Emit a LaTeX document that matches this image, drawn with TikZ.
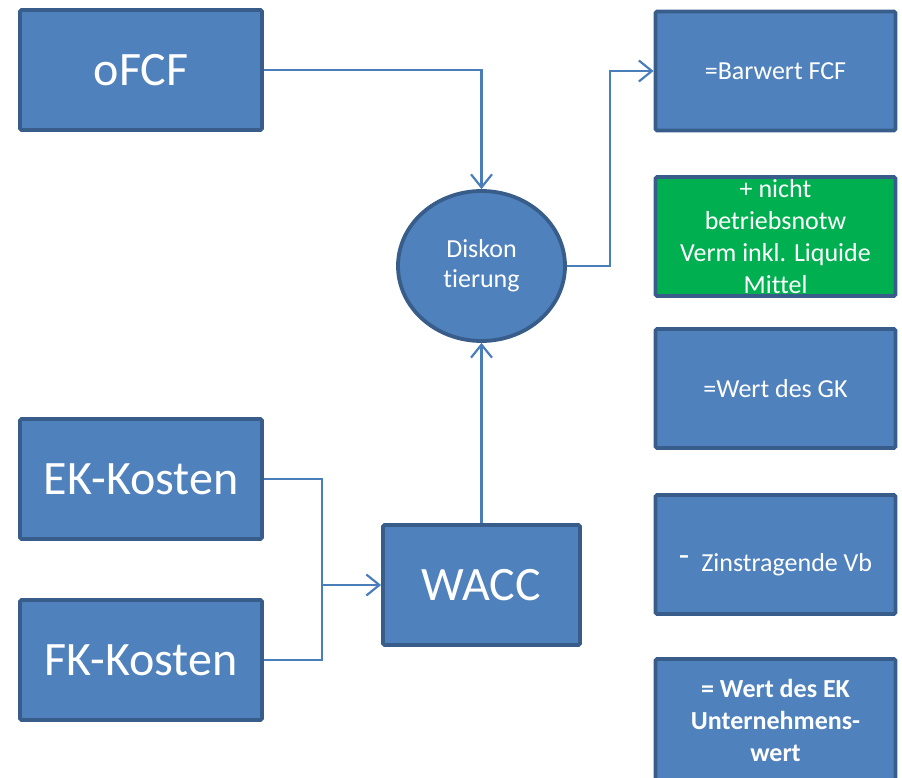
\documentclass[tikz,border=0pt]{standalone}
\usepackage{fontspec}
\setmainfont{Carlito}[Ligatures=NoCommon]
\usetikzlibrary{shapes.geometric,arrows.meta}
\definecolor{boxfill}{HTML}{4F81BD}
\definecolor{boxedge}{HTML}{385D8A}
\definecolor{greenfill}{HTML}{00B050}
\definecolor{wire}{HTML}{4A7EBB}
\tikzset{
  blockbase/.style={draw=boxedge, line width=3.8pt, fill=boxfill, rounded corners=1.5pt,
    text=white, align=center, inner sep=0pt},
  bigbox/.style={blockbase, minimum width=242pt, minimum height=120pt,
    font=\fontsize{48}{56}\selectfont},
  sumbox/.style={blockbase, minimum width=240pt, minimum height=119pt,
    font=\fontsize{26}{32}\selectfont},
  waccbox/.style={blockbase, minimum width=197pt, minimum height=120pt,
    font=\fontsize{48}{56}\selectfont},
  diskshape/.style={blockbase, ellipse, minimum width=167pt, minimum height=150pt,
    font=\fontsize{26}{30}\selectfont},
  wireline/.style={draw=wire, line width=2.2pt},
  wirearrow/.style={wireline, -{Straight Barb[length=13pt,width=21pt,line width=2.2pt]}}
}
\begin{document}
\begin{tikzpicture}[x=1pt,y=-1pt]
\useasboundingbox (0,0) rectangle (902,778);
\clip (0,0) rectangle (902,778);

% input side
\node[bigbox] (ofcf) at (141,70) {oFCF};
\node[bigbox] (ek) at (141,479) {EK-Kosten};
\node[bigbox] (fk) at (141,660) {FK-Kosten};
\node[waccbox] (wacc) at (481.5,585) {WACC};
\node[diskshape] (disk) at (481.5,266) {Diskon\\tierung};

% valuation steps
\node[sumbox] (barwert) at (775.5,71) {=Barwert FCF};
\node[sumbox, fill=greenfill] (nbv) at (775.5,236.5) {+ nicht\\betriebsnotw\\Verm inkl. Liquide\\Mittel};
\node[sumbox] (gk) at (775.5,388.5) {=Wert des GK};
\node[sumbox] (zins) at (775.5,554.5) {\raisebox{-17pt}[0pt][0pt]{\raisebox{5pt}{\fontsize{34}{34}\selectfont -}\hspace{12pt}Zinstragende Vb}};
\node[sumbox, minimum height=122pt, font=\fontsize{26}{32}\selectfont\bfseries] (ekwert) at (775.5,720) {= Wert des EK\\Unternehmens-\\wert};

% connectors
\draw[wirearrow] (ofcf.east) -| (disk.north);
\draw[wirearrow] (disk.east) -- ++(43,0) |- (barwert.west);
\draw[wirearrow] (wacc.north) -- (disk.south);
\draw[wireline] (ek.east) -- ++(58,0) coordinate (jtop) |- (fk.east);
\coordinate (join) at (jtop |- wacc.west);
\draw[wirearrow] (join) -- (wacc.west);
\end{tikzpicture}
\end{document}
